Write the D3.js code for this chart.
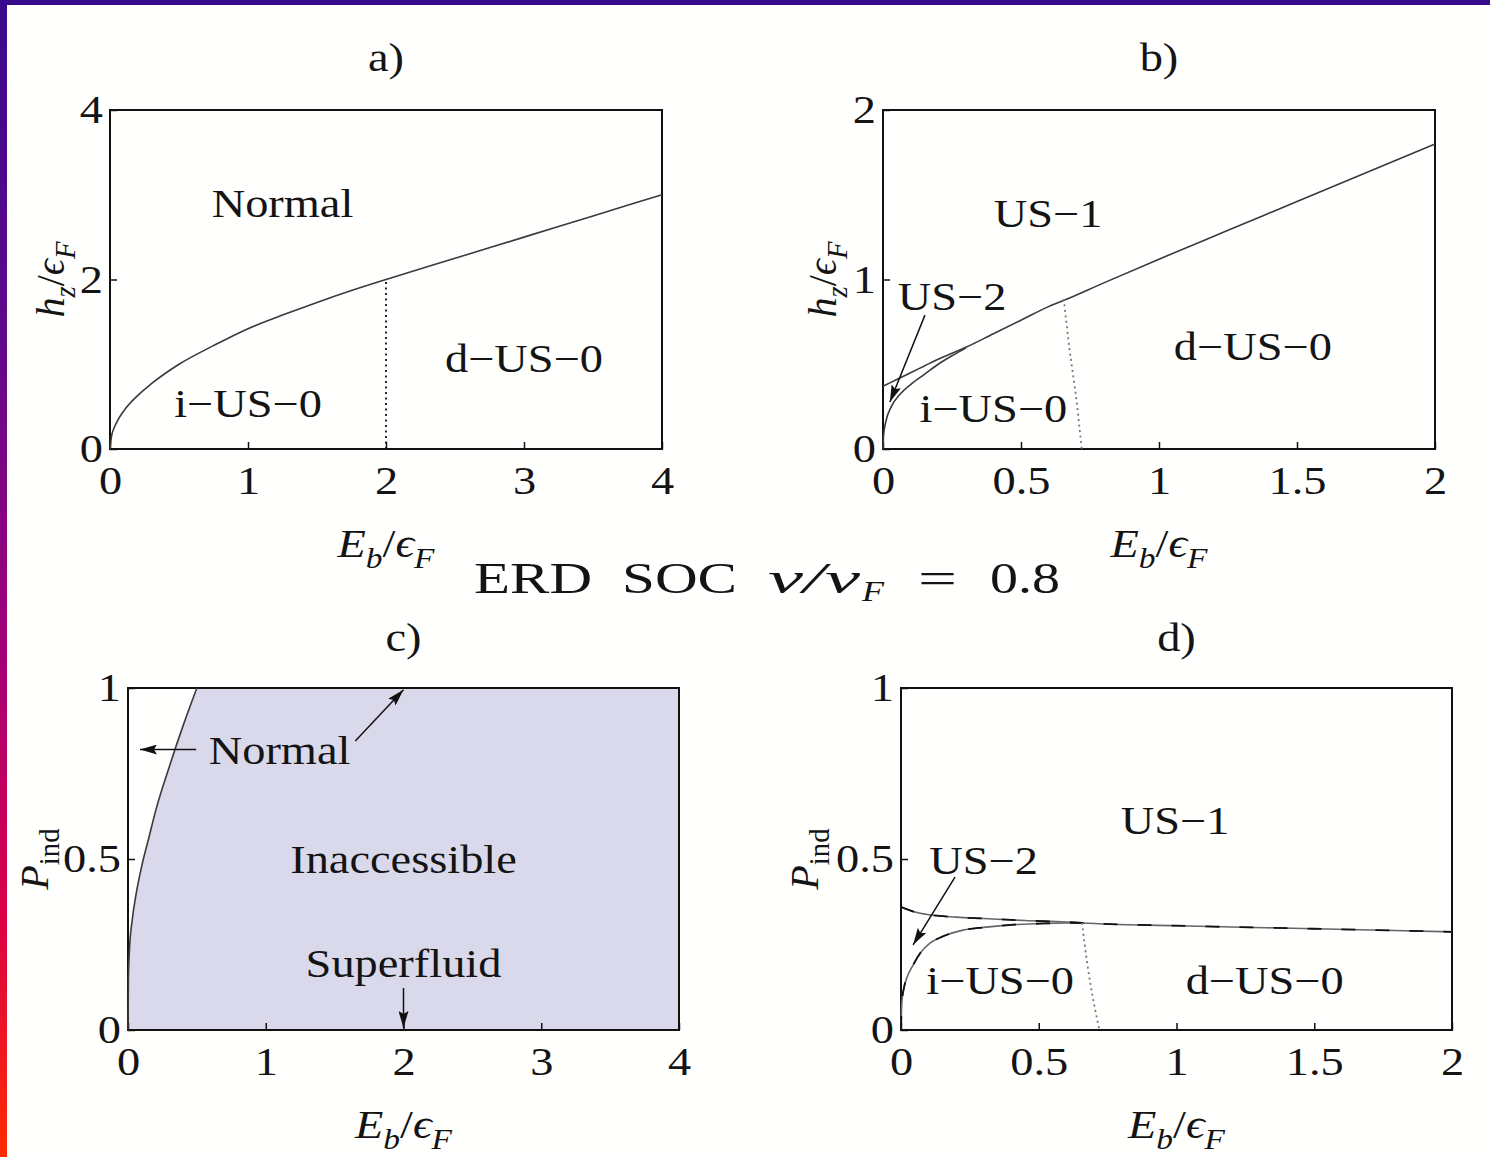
<!DOCTYPE html>
<html>
<head>
<meta charset="utf-8">
<script src="https://cdn.jsdelivr.net/npm/d3@7"></script>
<style>
  body { margin: 0; background: #fff; }
  svg { display: block; }
  text { font-family: "Liberation Serif", "Times New Roman", Times, serif; fill: #141414; }
</style>
</head>
<body>
<svg id="fig" width="1490" height="1157"></svg>
<script>
// ---------- data ----------
// a) critical field h_z/eps_F vs E_b/eps_F
const aBoundary = [[0,0],[0.01,0.14],[0.03,0.25],[0.05,0.32],[0.1,0.45],[0.2,0.63],[0.3,0.77],[0.5,1.0],[0.75,1.22],[1,1.42],[1.25,1.58],[1.5,1.73],[1.75,1.87],[2,2.0],[2.5,2.25],[3,2.5],[3.5,2.75],[4,3.0]];
const aSplit = [[2,0],[2,2]];
// b) phase boundaries
const bUpper = [[0,0.37],[0.05,0.41],[0.1,0.45],[0.15,0.49],[0.2,0.53],[0.25,0.565],[0.3,0.6],[0.4,0.68],[0.5,0.76],[0.6,0.84],[0.66,0.88],[0.8,0.98],[1,1.12],[1.25,1.29],[1.5,1.46],[1.75,1.63],[2,1.8]];
const bLower = [[0,0],[0.002,0.08],[0.01,0.16],[0.03,0.25],[0.06,0.32],[0.1,0.38],[0.15,0.44],[0.2,0.5],[0.25,0.55],[0.3,0.595]];
const bSplit = [[0.655,0.885],[0.675,0.6],[0.7,0.3],[0.72,0]];
// c) accessible region boundary P_ind vs E_b
const cBoundary = [[0,0],[0.003,0.15],[0.01,0.23],[0.03,0.32],[0.06,0.4],[0.1,0.48],[0.15,0.56],[0.2,0.64],[0.3,0.77],[0.4,0.89],[0.5,1.0]];
// d) polarization boundaries
const dUpper = [[0,0.36],[0.05,0.345],[0.1,0.337],[0.2,0.33],[0.3,0.326],[0.45,0.32],[0.6,0.316],[0.66,0.313],[1,0.305],[1.5,0.296],[2,0.287]];
const dLower = [[0,0],[0.003,0.08],[0.01,0.12],[0.02,0.15],[0.044,0.19],[0.07,0.225],[0.105,0.254],[0.15,0.273],[0.225,0.292],[0.3,0.3],[0.41,0.308],[0.5,0.311],[0.6,0.313],[0.66,0.313]];
const dSplit = [[0.657,0.313],[0.675,0.2],[0.695,0.1],[0.72,0]];

const ticksA = [0,1,2,3,4], ticksAy = [0,2,4];
const ticksB = [0,0.5,1,1.5,2], ticksBy = [0,1,2];
const ticksC = [0,1,2,3,4], ticksCy = [0,0.5,1];
const ticksD = [0,0.5,1,1.5,2], ticksDy = [0,0.5,1];

// region labels [E_b, value, text]
const labelsA = [[1.25,2.9,"Normal"],[3.0,1.07,"d\u2212US\u22120"],[1.0,0.54,"i\u2212US\u22120"]];
const labelsB = [[0.598,1.39,"US\u22121"],[0.25,0.9,"US\u22122"],[1.34,0.61,"d\u2212US\u22120"],[0.4,0.24,"i\u2212US\u22120"]];
const labelsC = [[1.1,0.82,"Normal"],[2.0,0.5,"Inaccessible"],[2.0,0.196,"Superfluid"]];
const labelsD = [[0.995,0.614,"US\u22121"],[0.3,0.497,"US\u22122"],[0.36,0.146,"i\u2212US\u22120"],[1.32,0.146,"d\u2212US\u22120"]];
// arrows [[x0,y0],[x1,y1]]
const arrowsB = [[[0.152,0.79],[0.025,0.277]]];
const arrowsC = [[[0.495,0.82],[0.087,0.82]],[[1.65,0.845],[2.0,0.995]],[[2.0,0.123],[2.0,0.006]]];
const arrowsD = [[[0.196,0.447],[0.044,0.249]]];

// ---------- drawing ----------
const SX = 1.16;           // horizontal stretch of glyphs
const FS = 40;
const svg = d3.select("#fig");
const defs = svg.append("defs");

const grad = defs.append("linearGradient").attr("id","edge").attr("x1",0).attr("y1",0).attr("x2",0).attr("y2",1);
[[0,"#380a8c"],[0.3,"#62088a"],[0.55,"#a0027a"],[0.78,"#d8004a"],[1,"#ff2a00"]]
  .forEach(([o,c]) => grad.append("stop").attr("offset",o).attr("stop-color",c));

defs.append("marker").attr("id","head").attr("markerUnits","userSpaceOnUse")
  .attr("markerWidth",18).attr("markerHeight",10).attr("refX",17).attr("refY",5)
  .attr("orient","auto")
  .append("path").attr("d","M0,0 L17,5 L0,10 L3,5 Z").attr("fill","#111");

svg.append("rect").attr("width",1490).attr("height",1157).attr("fill","#fffffd");
svg.append("rect").attr("width",1490).attr("height",5).attr("fill","#380a8c");
svg.append("rect").attr("width",7).attr("height",1157).attr("fill","url(#edge)");

function txt(g, x, y, s, size = FS) {
  return g.append("text")
    .attr("transform", `translate(${x},${y}) scale(${SX},1)`)
    .attr("text-anchor","middle").attr("dy","0.35em")
    .style("font-size", size + "px").text(s);
}

// parts: [text, italic, subscript]
function math(g, x, y, parts, rotate, size = FS) {
  const t = g.append("text")
    .attr("transform", rotate ? `translate(${x},${y}) rotate(-90)` : `translate(${x},${y}) scale(${SX},1)`)
    .attr("text-anchor","middle").style("font-size", size + "px");
  const sh = 0.28 * size;
  let down = false;
  parts.forEach(([s, it, sub]) => {
    const ts = t.append("tspan").text(s).style("font-style", it ? "italic" : "normal");
    if (sub) { ts.style("font-size", (0.72 * size) + "px"); if (!down) ts.attr("dy", sh); down = true; }
    else if (down) { ts.attr("dy", -sh); down = false; }
  });
  return t;
}

const xLab = [["E",1,0],["b",1,1],["/",0,0],["\u03f5",1,0],["F",1,1]];
const hLab = [["h",1,0],["z",1,1],["/",0,0],["\u03f5",1,0],["F",1,1]];
const pLab = [["P",1,0],["ind",0,1]];

function panel(cfg) {
  const g = svg.append("g");
  const x = d3.scaleLinear().domain(cfg.xd).range([cfg.l, cfg.r]);
  const y = d3.scaleLinear().domain(cfg.yd).range([cfg.b, cfg.t]);
  const line = d3.line().x(d => x(d[0])).y(d => y(d[1]));

  if (cfg.fill) g.append("path").attr("d", line(cfg.fill) + "Z").attr("fill","#d9d9eb");

  const xa = g.append("g").attr("transform",`translate(0,${cfg.b})`)
    .call(d3.axisBottom(x).tickValues(cfg.xt).tickFormat(String).tickSizeInner(-7).tickSizeOuter(0).tickPadding(17));
  const ya = g.append("g").attr("transform",`translate(${cfg.l},0)`)
    .call(d3.axisLeft(y).tickValues(cfg.yt).tickFormat(String).tickSizeInner(-7).tickSizeOuter(0).tickPadding(6));
  [xa, ya].forEach(a => {
    a.select(".domain").remove();
    a.selectAll("line").attr("stroke","#111").attr("stroke-width",1.5);
    a.selectAll("text").attr("fill","#141414").style("font-size", FS + "px")
      .style("font-family",'"Liberation Serif", "Times New Roman", Times, serif').attr("transform",`scale(${SX},1)`);
  });

  g.append("rect").attr("x",cfg.l).attr("y",cfg.t).attr("width",cfg.r-cfg.l).attr("height",cfg.b-cfg.t)
    .attr("fill","none").attr("stroke","#111").attr("stroke-width",2);

  (cfg.solid || []).forEach(d => g.append("path").attr("d", line.curve(d3.curveMonotoneX)(d))
    .attr("fill","none").attr("stroke","#3a3a3a").attr("stroke-width",1.6));
  (cfg.dashed || []).forEach(d => {
    g.append("path").attr("d", line.curve(d3.curveMonotoneX)(d)).attr("fill","none").attr("stroke","#666").attr("stroke-width",1.6);
    g.append("path").attr("d", line.curve(d3.curveMonotoneX)(d)).attr("fill","none").attr("stroke","#111")
      .attr("stroke-width",1.8).attr("stroke-dasharray","14,20");
  });
  (cfg.dotted || []).forEach(([d, c]) => g.append("path").attr("d", line.curve(d3.curveCatmullRom)(d))
    .attr("fill","none").attr("stroke",c).attr("stroke-width",1.8).attr("stroke-dasharray","2,3.5"));

  (cfg.arrows || []).forEach(([p0, p1]) => g.append("line")
    .attr("x1",x(p0[0])).attr("y1",y(p0[1])).attr("x2",x(p1[0])).attr("y2",y(p1[1]))
    .attr("stroke","#111").attr("stroke-width",1.5).attr("marker-end","url(#head)"));

  (cfg.labels || []).forEach(([a, b, s]) => txt(g, x(a), y(b), s));

  txt(g, (cfg.l + cfg.r) / 2, cfg.titleY, cfg.title);
  math(g, (cfg.l + cfg.r) / 2, cfg.b + 108, xLab, false);
  math(g, cfg.ylx, (cfg.t + cfg.b) / 2, cfg.ylab, true);
}

panel({ l:110, r:662, t:110, b:449, xd:[0,4], yd:[0,4], xt:ticksA, yt:ticksAy,
  fill:null, solid:[aBoundary], dotted:[[aSplit,"#111"]], labels:labelsA,
  title:"a)", titleY:57, ylab:hLab, ylx:64 });

panel({ l:883, r:1435, t:110, b:449, xd:[0,2], yd:[0,2], xt:ticksB, yt:ticksBy,
  solid:[bUpper, bLower], dotted:[[bSplit,"#777"]], labels:labelsB, arrows:arrowsB,
  title:"b)", titleY:57, ylab:hLab, ylx:836 });

panel({ l:128, r:679, t:688, b:1030, xd:[0,4], yd:[0,1], xt:ticksC, yt:ticksCy,
  fill: cBoundary.concat([[4,1],[4,0]]), solid:[cBoundary], labels:labelsC, arrows:arrowsC,
  title:"c)", titleY:637, ylab:pLab, ylx:48 });

panel({ l:901, r:1452, t:688, b:1030, xd:[0,2], yd:[0,1], xt:ticksD, yt:ticksDy,
  dashed:[dUpper, dLower], dotted:[[dSplit,"#777"]], labels:labelsD, arrows:arrowsD,
  title:"d)", titleY:637, ylab:pLab, ylx:818 });

// Figure heading
const head = svg.append("g").style("font-size","44px");
[["ERD",474,118,0],["SOC",622,115,0],["v/v",768,92,1],["=",918,39,0],["0.8",990,70,0]]
  .forEach(([s, x0, w, it]) => head.append("text").attr("x",x0).attr("y",593)
    .attr("textLength",w).attr("lengthAdjust","spacingAndGlyphs")
    .style("font-style", it ? "italic" : "normal").text(s));
head.append("text").attr("x",862).attr("y",601).style("font-size","30px").style("font-style","italic")
  .attr("textLength",22).attr("lengthAdjust","spacingAndGlyphs").text("F");
</script>
</body>
</html>
